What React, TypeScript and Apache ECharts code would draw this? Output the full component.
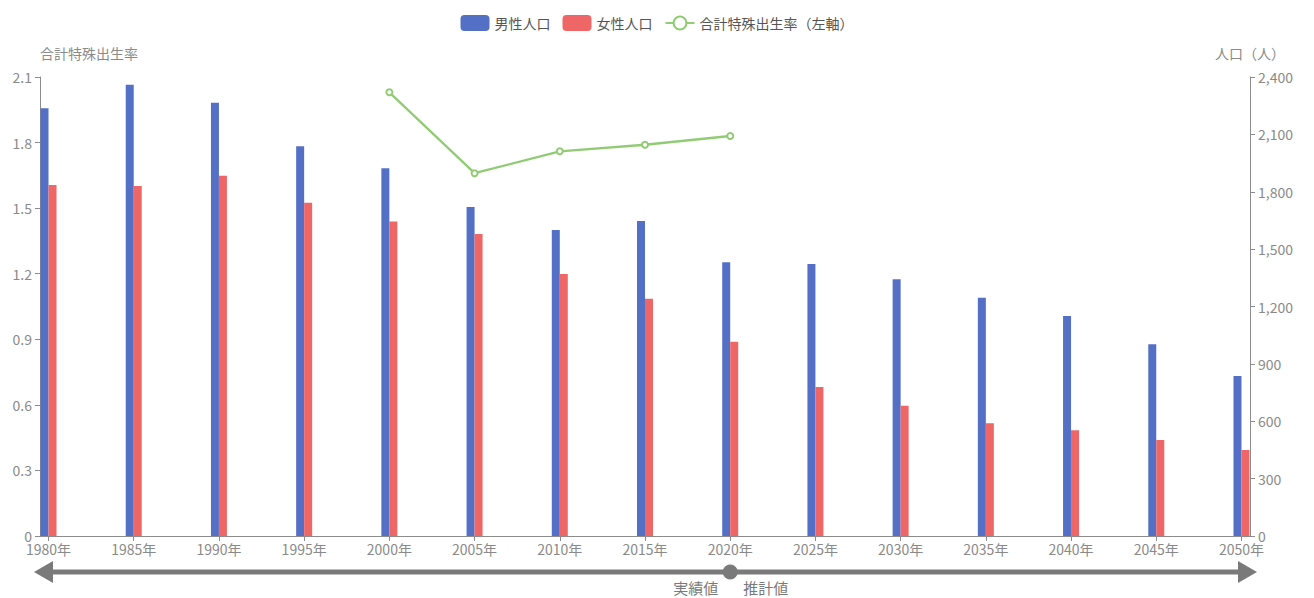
import React, { useEffect, useRef } from "react";
import * as echarts from "echarts";

const years = [1980, 1985, 1990, 1995, 2000, 2005, 2010, 2015, 2020, 2025, 2030, 2035, 2040, 2045, 2050];
const male = [2236, 2360, 2266, 2038, 1923, 1720, 1600, 1647, 1431, 1422, 1342, 1246, 1150, 1002, 837];
const female = [1835, 1830, 1884, 1743, 1645, 1579, 1370, 1241, 1016, 779, 681, 589, 553, 502, 450];
const tfrYears = [2000, 2005, 2010, 2015, 2020];
const tfr = [2.03, 1.66, 1.76, 1.79, 1.83];
const leftTicks = { min: 0, max: 2.1, interval: 0.3 };
const rightTicks = { min: 0, max: 2400, interval: 300 };

const FONT = "'Noto Sans CJK JP', 'Noto Sans', sans-serif";
const LABEL = "#8a8a8a";
const AXIS = "#8c8c8c";

export default function App() {
  const ref = useRef<HTMLDivElement>(null);
  useEffect(() => {
    document.body.style.margin = "0";
    const chart = echarts.init(ref.current!, undefined, { renderer: "svg" });
    const option: any = {
      animation: false,
      textStyle: { fontFamily: FONT },
      legend: {
        top: 10,
        left: "center",
        itemWidth: 29,
        itemHeight: 16,
        itemGap: 12,
        textStyle: { fontSize: 14, color: "#555", fontFamily: FONT },
        data: [
          { name: "男性人口", icon: "roundRect" },
          { name: "女性人口", icon: "roundRect" },
          { name: "合計特殊出生率（左軸）" },
        ],
      },
      grid: { left: 40, right: 64, top: 77, bottom: 62, containLabel: false },
      xAxis: {
        type: "value",
        min: 1979.5,
        max: 2050.5,
        splitLine: { show: false },
        axisLine: { show: true, lineStyle: { color: AXIS } },
        axisTick: { show: true, customValues: years, lineStyle: { color: AXIS } },
        axisLabel: {
          customValues: years,
          formatter: (v: number) => v + "年",
          color: LABEL,
          fontSize: 14,
          fontFamily: FONT,
          margin: 6,
        },
      },
      yAxis: [
        {
          type: "value",
          name: "合計特殊出生率",
          nameLocation: "end",
          nameGap: 17,
          nameTextStyle: { color: LABEL, fontSize: 14, fontFamily: FONT, align: "left" },
          min: leftTicks.min,
          max: leftTicks.max,
          interval: leftTicks.interval,
          position: "left",
          splitLine: { show: false },
          axisLine: { show: true, lineStyle: { color: AXIS } },
          axisTick: { show: true, lineStyle: { color: AXIS } },
          axisLabel: { color: LABEL, fontSize: 14, fontFamily: FONT, formatter: (v: number) => (v === 0 ? "0" : v.toFixed(1)) },
        },
        {
          type: "value",
          name: "人口（人）",
          nameLocation: "end",
          nameGap: 17,
          nameTextStyle: { color: LABEL, fontSize: 14, fontFamily: FONT, align: "center" },
          min: rightTicks.min,
          max: rightTicks.max,
          interval: rightTicks.interval,
          position: "right",
          splitLine: { show: false },
          axisLine: { show: true, lineStyle: { color: AXIS } },
          axisTick: { show: true, lineStyle: { color: AXIS } },
          axisLabel: { color: LABEL, fontSize: 14, fontFamily: FONT, formatter: (v: number) => v.toLocaleString("en-US") },
        },
      ],
      series: [
        {
          name: "男性人口",
          type: "bar",
          yAxisIndex: 1,
          barWidth: 8,
          barGap: "0%",
          itemStyle: { color: "#5470c6" },
          data: years.map((y, i) => [y, male[i]]),
        },
        {
          name: "女性人口",
          type: "bar",
          yAxisIndex: 1,
          barWidth: 8,
          barGap: "0%",
          itemStyle: { color: "#ee6666" },
          data: years.map((y, i) => [y, female[i]]),
        },
        {
          name: "合計特殊出生率（左軸）",
          type: "line",
          yAxisIndex: 0,
          symbol: "emptyCircle",
          symbolSize: 6,
          lineStyle: { color: "#91cc75", width: 2.3 },
          itemStyle: { color: "#91cc75", borderWidth: 2 },
          data: tfrYears.map((y, i) => [y, tfr[i]]),
        },
      ],
    };
    chart.setOption(option);

    const x2020 = chart.convertToPixel({ xAxisIndex: 0 }, 2020) as number;
    const yArrow = 572;
    const gray = "#7a7a7a";
    chart.setOption({
      graphic: [
        { type: "rect", shape: { x: 50, y: yArrow - 2.5, width: 1191, height: 5 }, style: { fill: gray } },
        { type: "polygon", shape: { points: [[34, yArrow], [53, yArrow - 11], [53, yArrow + 11]] }, style: { fill: gray } },
        { type: "polygon", shape: { points: [[1257, yArrow], [1238, yArrow - 11], [1238, yArrow + 11]] }, style: { fill: gray } },
        { type: "circle", shape: { cx: x2020, cy: yArrow, r: 7.5 }, style: { fill: gray } },
        {
          type: "text",
          x: x2020 - 12,
          y: 587,
          style: { text: "実績値", fill: gray, fontSize: 15, fontFamily: FONT, align: "right", verticalAlign: "middle" },
        },
        {
          type: "text",
          x: x2020 + 13,
          y: 587,
          style: { text: "推計値", fill: gray, fontSize: 15, fontFamily: FONT, align: "left", verticalAlign: "middle" },
        },
      ],
    });
    return () => chart.dispose();
  }, []);
  return <div ref={ref} style={{ width: 1314, height: 598 }} />;
}
